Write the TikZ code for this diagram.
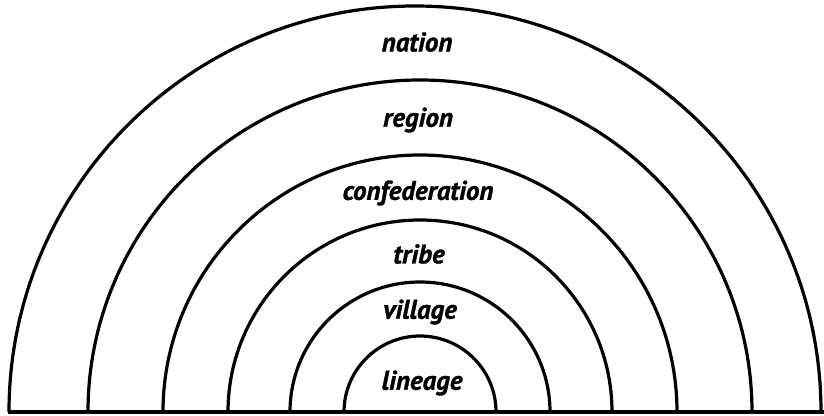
\documentclass[tikz,border=0pt]{standalone}
\usepackage{fontspec}
\setmainfont{PT Sans}
\newfontfamily\levelfont{PT Sans}[BoldItalicFeatures={FakeBold=1.2}]
\usetikzlibrary{positioning}

\tikzset{
  ring/.style={line width=3.2pt, black},
  level/.style={font=\levelfont\fontsize{27}{29}\selectfont\bfseries\itshape, inner sep=0pt}
}

\begin{document}
\begin{tikzpicture}[x=1pt, y=1pt]
    \useasboundingbox (0,0) rectangle (824,-415);

    % Base line
    \coordinate (bl) at (8,-412);
    \coordinate (br) at (824,-412);
    \draw[ring] (bl) -- (br);

    % Half rings (outer first)
    \draw[ring] (9,-412) arc (180:0:406);
    \draw[ring] (88,-412) arc (180:0:332);
    \draw[ring] (163,-412) arc (180:0:257);
    \draw[ring] (228,-412) arc (180:0:192);
    \draw[ring] (290,-412) arc (180:0:130);
    \draw[ring] (344,-412) arc (180:0:76);

    % Labels
    \node[level] (nation) at (417,-42) {nation};
    \node[level] (region) at (418,-120) {region};
    \node[level] (confed) at (418,-193) {confederation};
    \node[level] (tribe) at (419,-254) {tribe};
    \node[level] (village) at (420,-312) {village};
    \node[level] (lineage) at (422,-383) {lineage};
\end{tikzpicture}
\end{document}
